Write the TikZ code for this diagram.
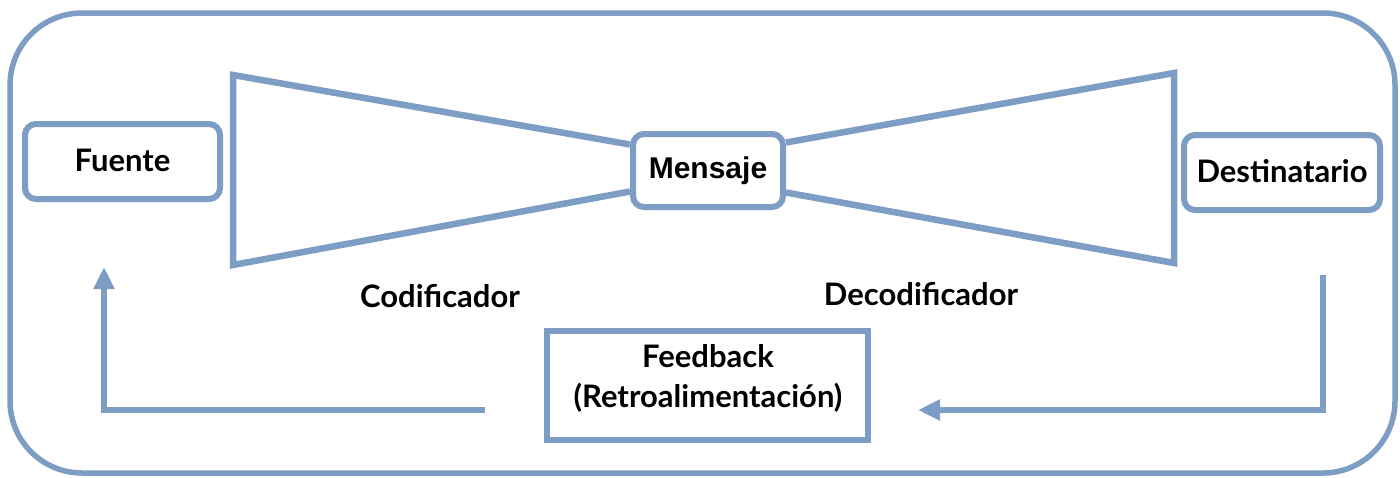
\documentclass[tikz,border=0pt]{standalone}
\usepackage{fontspec}
\setmainfont{Lato}
\newfontfamily\arialb{Liberation Sans}
\usetikzlibrary{arrows.meta}
\definecolor{bl}{RGB}{126,157,196}
\tikzset{
  frame/.style={draw=bl, line width=5.5pt, rounded corners=72pt},
  rbox/.style={draw=bl, line width=6pt, fill=white, rounded corners=11pt, inner sep=0pt,
     font=\fontsize{31}{34}\selectfont\bfseries, text height=19pt, text depth=0pt},
  fbbox/.style={draw=bl, line width=6.5pt, fill=white, inner sep=0pt},
  lbl/.style={inner sep=0pt, anchor=base, font=\fontsize{31}{34}\selectfont\bfseries},
  shape line/.style={draw=bl, line width=6.5pt, line join=miter},
  conn/.style={draw=bl, line width=6pt, -{Triangle[length=22pt,width=20pt]}}
}
\begin{document}
\begin{tikzpicture}[x=1pt,y=-1pt]
\useasboundingbox (0,0) rectangle (1400,477);
\draw[frame] (10,13) rectangle (1395,473);
% nodes
\node[rbox, minimum width=195pt, minimum height=75pt] (src) at (122.5,161.5) {Fuente};
\node[rbox, minimum width=150pt, minimum height=73pt, font=\arialb\fontsize{30}{32}\selectfont\bfseries, text height=15pt] (msg) at (708,170.5) {Mensaje};
\node[rbox, minimum width=196pt, minimum height=75pt] (dst) at (1282,172.5) {Destinatario};
\node[fbbox, minimum width=321pt, minimum height=109pt] (fb) at (707.5,385.5) {};
\node[lbl] (fbt1) at (708,367) {Feedback};
\node[lbl] (fbt2) at (708,407) {(Retroalimentación)};
\node[lbl] (cod) at (440,307) {Codificador};
\node[lbl] (dec) at (921,305) {Decodificador};
% trapezoids (encoder / decoder)
\coordinate (a1) at (233,75);
\coordinate (a2) at (233,265);
\coordinate (b1) at (1174,73);
\coordinate (b2) at (1174,263);
\draw[shape line] ([yshift=26pt]msg.west) -- (a1) -- (a2) -- ([yshift=-21pt]msg.west);
\draw[shape line] ([yshift=28pt]msg.east) -- (b1) -- (b2) -- ([yshift=-22pt]msg.east);
% feedback connectors
\coordinate (r1) at (1323,275);
\coordinate (r2) at (918,410);
\coordinate (l1) at (485,410);
\coordinate (l2) at (104,267);
\draw[conn] (r1) |- (r2);
\draw[conn] (l1) -| (l2);
\end{tikzpicture}
\end{document}
